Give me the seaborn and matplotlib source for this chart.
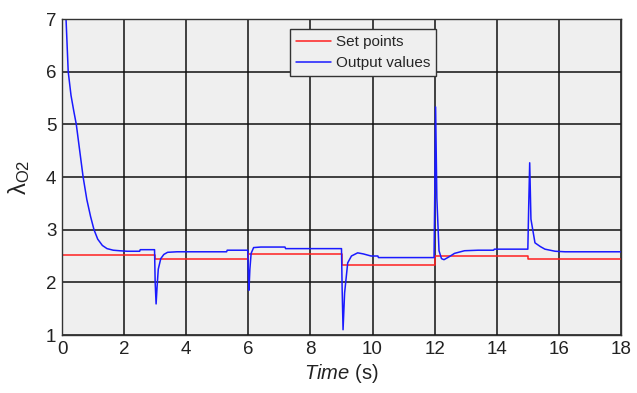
import matplotlib
matplotlib.use("Agg")
import matplotlib.pyplot as plt
import seaborn as sns
import pandas as pd

# Set points (piecewise constant)
t_set = [0.0, 3.0, 3.0, 6.0, 6.0, 9.0, 9.0, 12.0, 12.0, 15.0, 15.0, 18.0]
v_set = [2.51, 2.51, 2.44, 2.44, 2.54, 2.54, 2.33, 2.33, 2.50, 2.50, 2.45, 2.45]

# Output values
t_out = [0.10, 0.13, 0.20, 0.29, 0.38, 0.46, 0.57, 0.68, 0.80, 0.92, 1.03, 1.15,
         1.30, 1.45, 1.65, 1.85, 2.10, 2.50, 2.52, 2.98, 3.00, 3.03, 3.06, 3.10,
         3.18, 3.28, 3.40, 3.70, 5.30, 5.32, 5.98, 6.00, 6.02, 6.05, 6.09, 6.17,
         6.40, 7.18, 7.20, 9.00, 9.02, 9.05, 9.10, 9.20, 9.32, 9.52, 9.70, 9.95,
         10.17, 10.19, 11.98, 12.00, 12.03, 12.07, 12.14, 12.22, 12.30, 12.45,
         12.64, 12.96, 13.40, 13.90, 13.92, 15.00, 15.03, 15.06, 15.10, 15.23,
         15.40, 15.55, 15.88, 16.20, 18.00]
v_out = [7.10, 7.00, 6.00, 5.55, 5.25, 5.00, 4.50, 4.00, 3.57, 3.25, 3.00, 2.82,
         2.70, 2.64, 2.61, 2.60, 2.59, 2.59, 2.62, 2.62, 2.00, 1.59, 1.90, 2.25,
         2.45, 2.53, 2.57, 2.58, 2.58, 2.61, 2.61, 2.20, 1.85, 2.25, 2.55, 2.66,
         2.67, 2.67, 2.64, 2.64, 1.90, 1.10, 1.80, 2.37, 2.50, 2.56, 2.54, 2.50,
         2.50, 2.47, 2.47, 3.50, 5.33, 3.60, 2.60, 2.45, 2.43, 2.48, 2.55, 2.60,
         2.61, 2.61, 2.63, 2.63, 3.50, 4.27, 3.20, 2.75, 2.68, 2.63, 2.59, 2.58,
         2.58]

df_set = pd.DataFrame({"t": t_set, "v": v_set})
df_out = pd.DataFrame({"t": t_out, "v": v_out})

sns.set_theme(style="white")
plt.rcParams["font.family"] = ["Liberation Sans", "DejaVu Sans"]
plt.rcParams["mathtext.fontset"] = "custom"
plt.rcParams["mathtext.rm"] = "Liberation Sans"
plt.rcParams["mathtext.it"] = "Liberation Sans:italic"

fig = plt.figure(figsize=(6.37, 3.93), dpi=100)
ax = fig.add_axes([62/637, 1-335/393, (621-62)/637, (335-19)/393])
ax.set_facecolor("#efefef")

sns.lineplot(data=df_set, x="t", y="v", ax=ax, color="#ff2020", lw=1.1,
             label="Set points", sort=False, estimator=None)
sns.lineplot(data=df_out, x="t", y="v", ax=ax, color="#1a1aff", lw=1.1,
             label="Output values", sort=False, estimator=None)

ax.set_xlim(0, 18)
ax.set_ylim(1, 7)
ax.set_xticks(range(0, 19, 2))
ax.set_yticks(range(1, 8))
ax.grid(True, color="#111111", lw=1.1)
ax.set_axisbelow(True)
for s in ax.spines.values():
    s.set_color("#333333")
    s.set_linewidth(1.0)
ax.tick_params(axis="both", labelsize=13.5, length=0, pad=4, colors="#222222")

ax.set_xlabel("$\\mathit{Time}$ (s)", fontsize=14.5, color="#222222", labelpad=3)
ax.set_ylabel("λ$_{\\mathrm{O2}}$", fontsize=17, color="#222222", labelpad=10)

leg = ax.legend(loc="upper left", bbox_to_anchor=((290-62)/559, 1-(29-19)/316),
                fontsize=11, frameon=True, fancybox=False, framealpha=1,
                edgecolor="#333333", handlelength=2.3, handletextpad=0.3,
                borderpad=0.4, labelspacing=0.45, borderaxespad=0)
leg.get_frame().set_linewidth(1.0)
leg.get_frame().set_facecolor("#efefef")

fig.savefig("out.png", dpi=100)
